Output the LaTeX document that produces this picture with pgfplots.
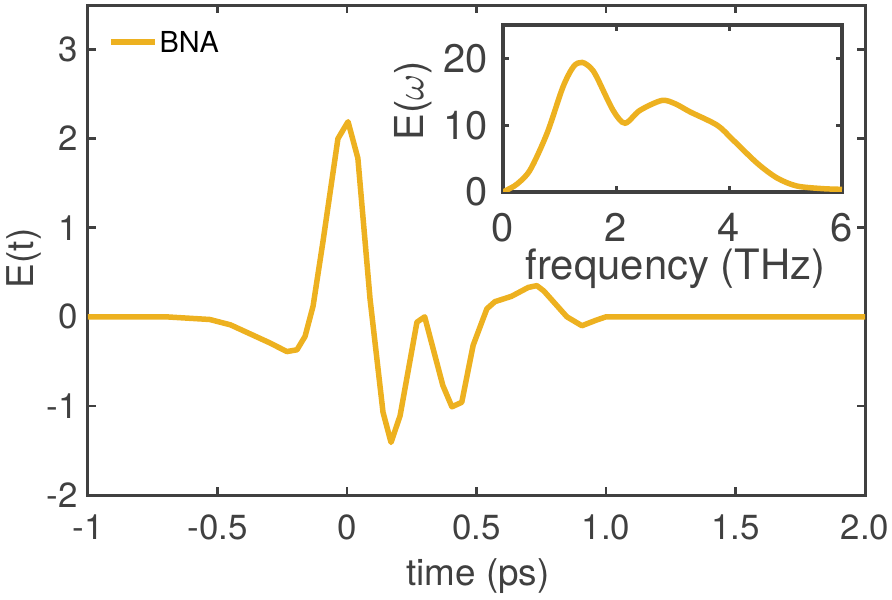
\documentclass[border=0pt]{standalone}
\usepackage{fontspec}
\setmainfont{TeX Gyre Heros}
\DeclareFontShape{OML}{cmm}{m}{it}{<->cmmi10}{}
\usepackage{pgfplots}
\pgfplotsset{compat=1.18}
\definecolor{bna}{RGB}{237,177,32}
\definecolor{frm}{RGB}{64,64,64}
\begin{document}
\begin{tikzpicture}
\path[use as bounding box] (-88bp,-105bp) rectangle (804bp,495bp);
\begin{axis}[
  at={(0,0)}, anchor=south west,
  width=777bp, height=490bp, scale only axis,
  xmin=-1, xmax=2, ymin=-2, ymax=3.5,
  xtick={-1,-0.5,0,0.5,1,1.5,2},
  xticklabels={-1,-0.5,0,0.5,1.0,1.5,2.0},
  ytick={-2,-1,0,1,2,3},
  yticklabels={-2,-1,0,1,2,3},
  tick align=inside,
  major tick length=8bp,
  tick style={frm, line width=2.5bp},
  axis line style={draw=frm, line width=3bp},
  ticklabel style={font=\fontsize{35}{40}\selectfont, text=frm, inner sep=0pt},
  xticklabel style={yshift=-20bp},
  yticklabel style={xshift=-10bp},
  xlabel={time (ps)},
  xlabel style={at={(axis description cs:0.502,-0.166)}, anchor=center, font=\fontsize{37}{40}\selectfont, text=frm, inner sep=0pt},
  ylabel={E(t)},
  ylabel style={at={(axis description cs:-0.082,0.483)}, anchor=center, font=\fontsize{37}{40}\selectfont, text=frm, inner sep=0pt},
  legend style={at={(axis description cs:0.0257,0.924)}, anchor=west, draw=none, fill=none, inner sep=0pt,
    font=\fontsize{29}{32}\selectfont, nodes={inner sep=0pt}, column sep=2bp},
  legend image code/.code={\draw[#1] (0bp,0bp) -- (44bp,0bp);},
]
\addplot[bna, line width=5.5bp, line join=round] coordinates {
(-1,0) (-0.7,0) (-0.53,-0.03) (-0.45,-0.09) (-0.375,-0.19) (-0.3,-0.29) (-0.232,-0.39) (-0.193,-0.37)
(-0.162,-0.22) (-0.131,0.12) (-0.093,0.84) (-0.035,2.0) (0.004,2.19) (0.042,1.78) (0.089,0.2)
(0.139,-1.07) (0.17,-1.41) (0.205,-1.11) (0.27,-0.06) (0.30,0.0) (0.37,-0.77) (0.405,-1.01)
(0.443,-0.96) (0.487,-0.32) (0.54,0.09) (0.571,0.17) (0.635,0.23) (0.70,0.33) (0.733,0.35)
(0.76,0.29) (0.849,0.0) (0.907,-0.1) (0.96,-0.04) (1.0,0.0) (2.0,0.0)
};
\addlegendentry{BNA}
\end{axis}
\begin{axis}[
  at={(415bp,303bp)}, anchor=south west,
  width=339bp, height=167bp, scale only axis,
  xmin=0, xmax=6, ymin=0, ymax=25,
  xtick={0,2,4,6}, xticklabels={0,2,4,6},
  ytick={0,10,20}, yticklabels={0,10,20},
  axis background/.style={fill=white},
  tick align=inside,
  major tick length=6bp,
  tick style={frm, line width=3bp},
  axis line style={draw=frm, line width=4.5bp},
  ticklabel style={font=\fontsize{40}{44}\selectfont, text=frm, inner sep=0pt},
  xticklabel style={yshift=-21bp},
  yticklabel style={xshift=-15bp},
  xlabel={frequency (THz)},
  xlabel style={at={(axis description cs:0.509,-0.46)}, anchor=center, font=\fontsize{42}{46}\selectfont, text=frm, inner sep=0pt},
  ylabel={E($\omega$)},
  ylabel style={at={(axis description cs:-0.265,0.548)}, anchor=center, font=\fontsize{40}{44}\selectfont, text=frm, inner sep=0pt},
]
\addplot[bna, line width=5.5bp, smooth, tension=0.5] coordinates {
(0,0) (0.07,0.3) (0.25,1.2) (0.48,3.3) (0.78,8.8) (1.06,15.7) (1.25,18.8) (1.40,19.4) (1.55,18.6)
(1.66,17.2) (1.95,12.2) (2.16,10.3) (2.42,12.2) (2.81,13.7) (3.05,13.2) (3.31,12.0) (3.79,10.0)
(4.07,7.8) (4.5,4.3) (4.85,2.1) (5.2,0.9) (5.66,0.5) (6,0.4)
};
\end{axis}
\end{tikzpicture}
\end{document}
